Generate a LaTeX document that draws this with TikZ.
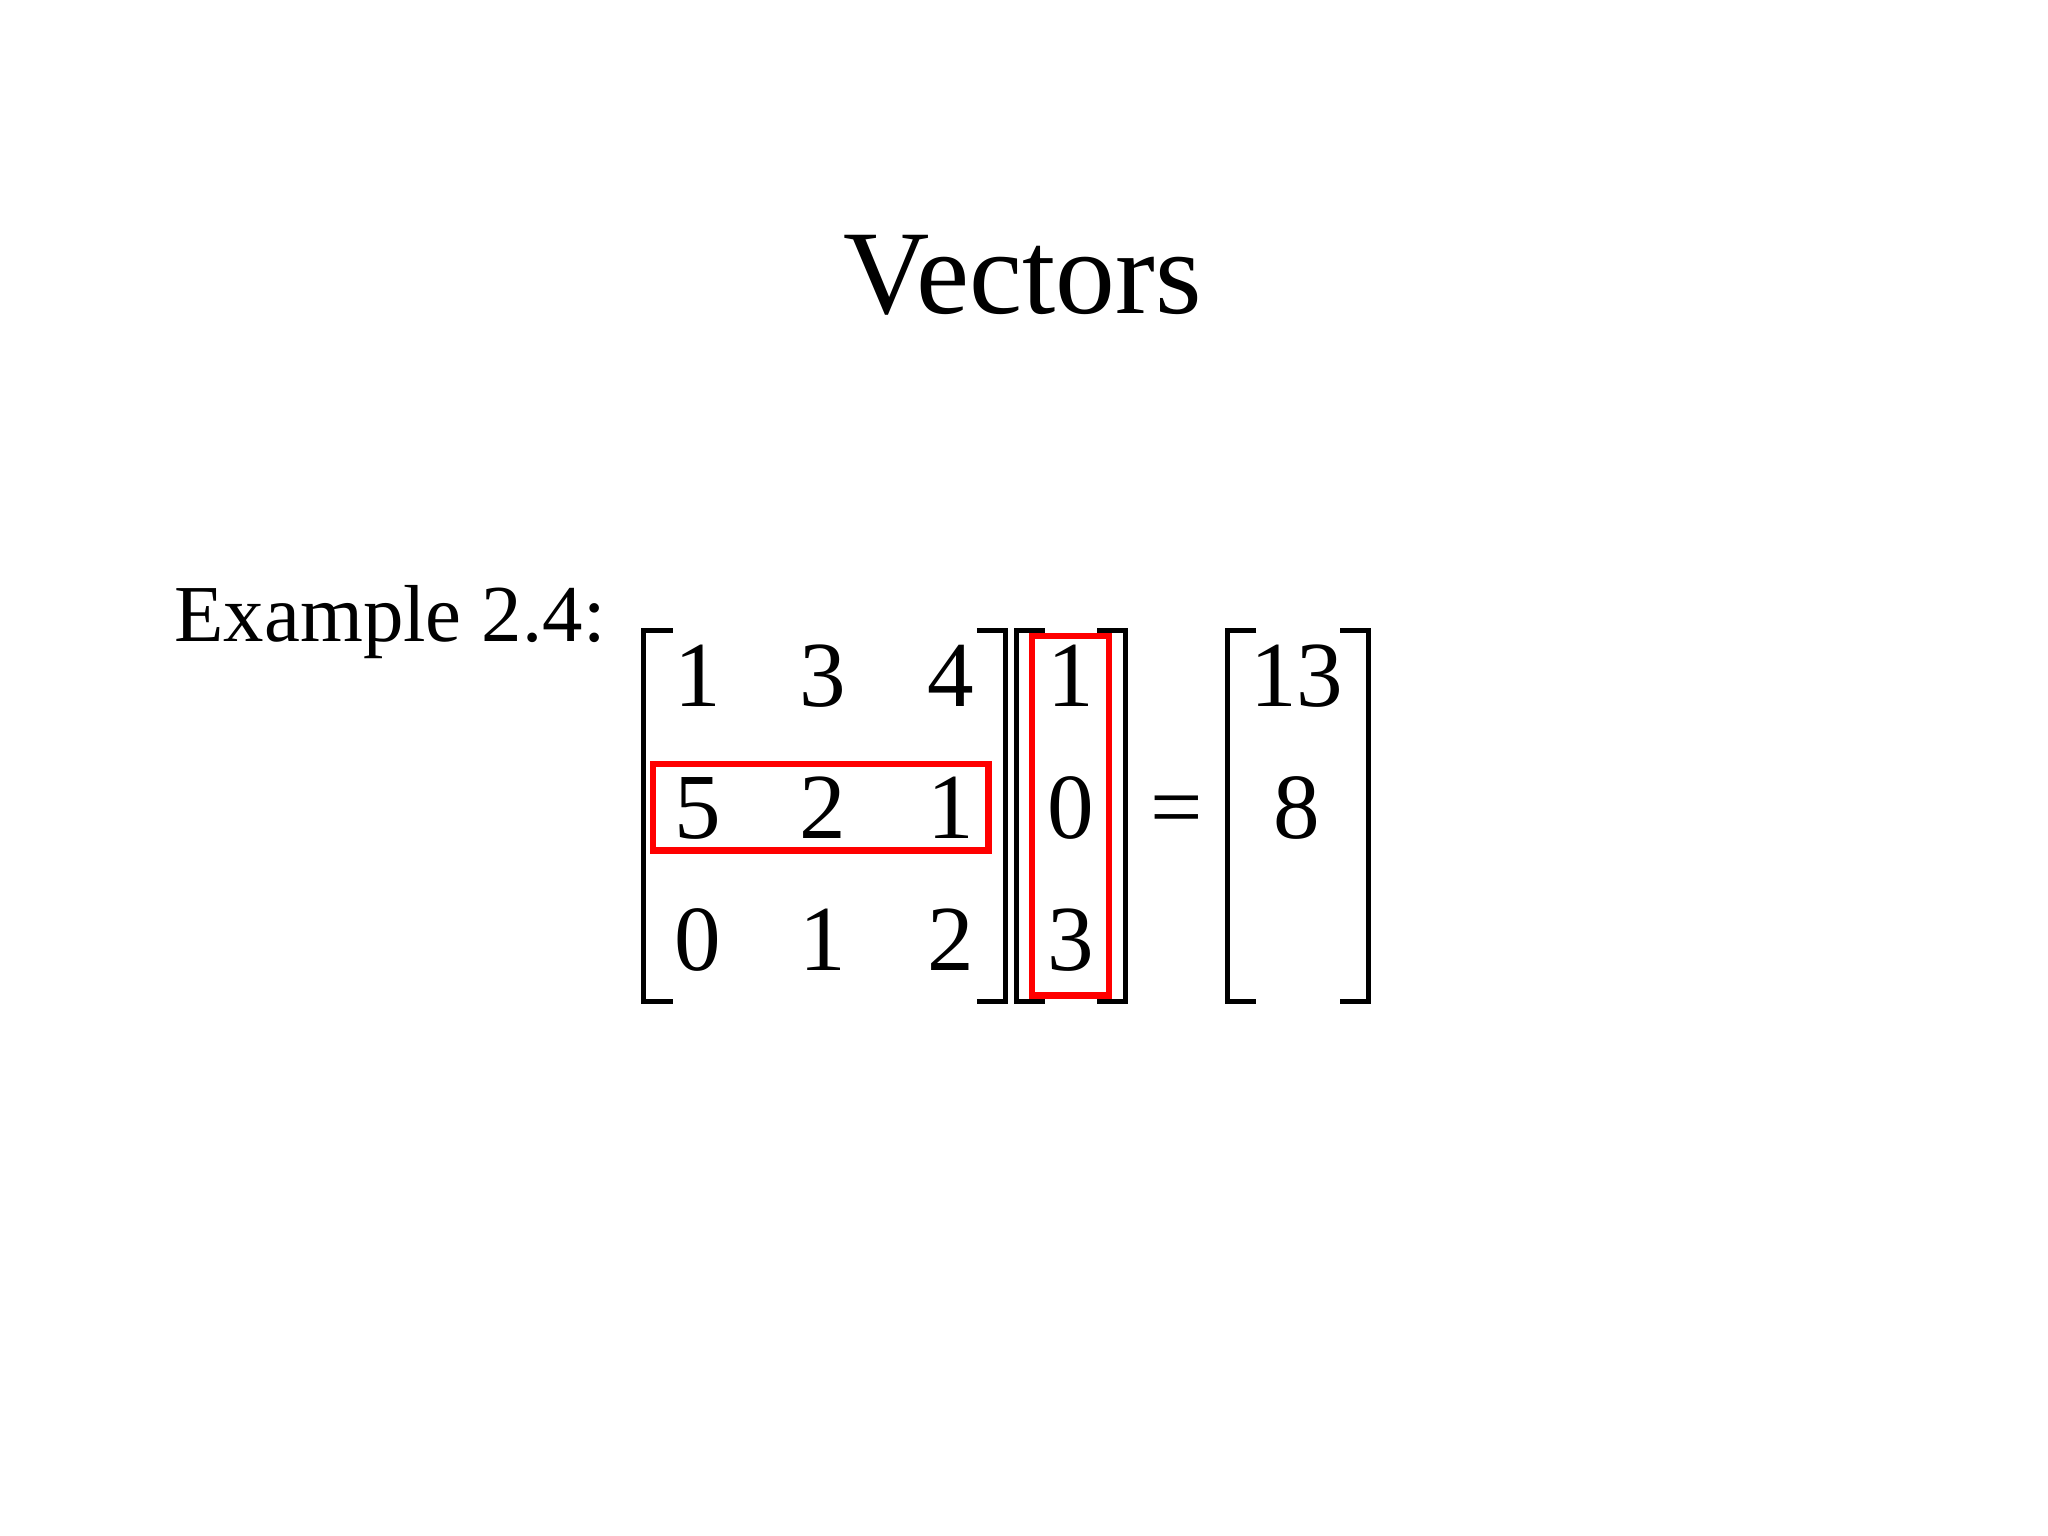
\documentclass[tikz,border=0pt]{standalone}
\usepackage{fontspec}
\setmainfont{Liberation Serif}
\begin{document}
\begin{tikzpicture}[x=0.01306cm,y=-0.01306cm,
  num/.style={anchor=base,inner sep=0pt,font=\fontsize{26.5}{30}\selectfont},
  brk/.style={line width=3.2pt*0.45},
  redbox/.style={draw=red,line width=1.9pt}]
\useasboundingbox (0,0) rectangle (1568,1176);
\node[anchor=base,inner sep=0pt,font=\fontsize{34}{40}\selectfont] (title) at (783,240) {Vectors};
\node[anchor=base west,inner sep=0pt,font=\fontsize{23}{28}\selectfont] (ex) at (133,491) {Example 2.4:};
% matrix entries
\foreach \r/\y/\a/\b/\c in {1/541/1/3/4, 2/642/5/2/1, 3/743/0/1/2}{
  \node[num] (m\r a) at (534,\y) {\a};
  \node[num] (m\r b) at (630,\y) {\b};
  \node[num] (m\r c) at (728,\y) {\c};
}
\node[num] (v1) at (820,541) {1};
\node[num] (v2) at (820,642) {0};
\node[num] (v3) at (820,743) {3};
\node[num] (r1) at (993,541) {13};
\node[num] (r2) at (993,642) {8};
\node[num] (eq) at (901,642) {=};
% brackets
\foreach \l/\rr in {493/770, 778/862, 940/1048}{
  \draw[brk] (\l+22,483) -- (\l,483) -- (\l,767) -- (\l+22,767);
  \draw[brk] (\rr-22,483) -- (\rr,483) -- (\rr,767) -- (\rr-22,767);
}
\draw[redbox] (500,585) rectangle (757,651);
\draw[redbox] (790,487) rectangle (849,762);
\end{tikzpicture}
\end{document}
